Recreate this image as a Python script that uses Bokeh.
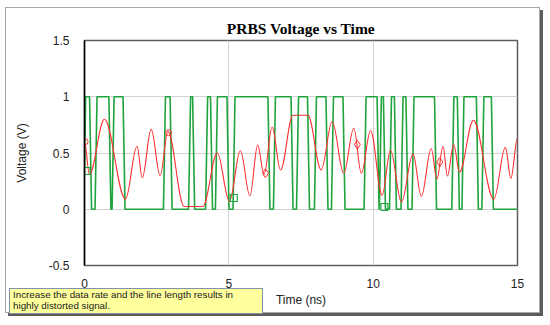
import numpy as np
from bokeh.plotting import figure
from bokeh.models import Range1d, FixedTicker, Div
from bokeh.layouts import column
from bokeh.embed import file_html
from bokeh.resources import INLINE

# ---------------- data ----------------
title_text = "PRBS Voltage vs Time"
x_label = "Time (ns)"
y_label = "Voltage (V)"
note_lines = ["Increase the data rate and the line length results in",
              "highly distorted signal."]
x_ticks = [0, 5, 10, 15]
y_ticks = [-0.5, 0, 0.5, 1, 1.5]
y_tick_labels = ["-0.5", "0", "0.5", "1", "1.5"]

# green PRBS source: start value, high/low levels, edge times (ns), first edge falls
prbs_start_value = 0.33
prbs_high = 1.0
prbs_low = 0.0
prbs_edges = [0.21, 0.40, 0.88, 0.99, 1.37, 2.77, 3.00, 3.64, 3.78, 4.23,
              4.40, 4.57, 4.97, 5.18, 6.39, 6.58, 7.19, 7.38, 7.76, 8.00,
              8.40, 8.59, 8.99, 9.72, 10.17, 10.25, 10.39, 10.60, 10.77, 11.00,
              11.17, 11.38, 12.16, 12.76, 12.95, 13.11, 13.61, 13.80, 14.13]

# red received signal: turning points (ns, V)
rx_t = [0.00, 0.17, 0.69, 1.42, 1.82, 2.00, 2.31, 2.62, 2.89, 3.45,
        4.10, 4.60, 5.02, 5.40, 5.73, 6.00, 6.22, 6.50, 6.79, 7.22,
        7.74, 8.20, 8.58, 8.98, 9.33, 9.59, 9.91, 10.31, 10.60, 10.98,
        11.38, 11.67, 12.01, 12.21, 12.42, 12.57, 12.79, 12.99, 13.47, 14.18,
        14.58, 14.77, 15.00]
rx_v = [0.60, 0.31, 0.80, 0.09, 0.56, 0.28, 0.71, 0.30, 0.69, 0.025,
        0.025, 0.50, 0.07, 0.52, 0.12, 0.57, 0.31, 0.73, 0.35, 0.835,
        0.835, 0.35, 0.78, 0.32, 0.72, 0.32, 0.70, 0.125, 0.525, 0.065,
        0.49, 0.115, 0.54, 0.27, 0.56, 0.295, 0.575, 0.33, 0.79, 0.09,
        0.55, 0.275, 0.63]

# data-point markers
rx_circle_t = [0.02, 2.91]
rx_circle_v = [0.60, 0.68]
rx_diamond_t = [6.27, 9.45, 12.31]
rx_diamond_v = [0.32, 0.575, 0.42]
prbs_square_t = [0.07, 5.17, 10.39]
prbs_square_v = [0.34, 0.10, 0.02]

# ---------------- styles ----------------
GREEN = "#1FA33D"
RED = "#FF3030"
edge_time = 0.07
k_ctrl = 0.36

p = figure(width=535, height=306, output_backend="svg", toolbar_location=None,
           x_range=Range1d(0, 15), y_range=Range1d(-0.5, 1.5),
           min_border_left=78, min_border_right=24, min_border_top=32,
           min_border_bottom=49, title=title_text)
p.styles = {"border": "1px solid #a8a8a8", "box-shadow": "3px 3px 0px #5c5c5c",
            "margin-left": "5px", "margin-top": "7px"}
p.background_fill_color = "white"
p.border_fill_color = "white"
p.outline_line_color = "#5e5e5e"
p.outline_line_width = 1.5

p.title.align = "center"
p.title.text_font = "Liberation Serif"
p.title.text_font_size = "15.5px"
p.title.text_font_style = "bold"
p.title.text_color = "black"
p.title.standoff = 7

for ax in (p.xaxis[0], p.yaxis[0]):
    ax.major_tick_line_color = None
    ax.minor_tick_line_color = None
    ax.major_label_text_font = "Liberation Sans"
    ax.major_label_text_font_size = "12px"
    ax.major_label_text_color = "#222222"
    ax.axis_label_text_font = "Liberation Sans"
    ax.axis_label_text_font_size = "12px"
    ax.axis_label_text_font_style = "normal"
    ax.axis_label_text_color = "#222222"

p.xaxis.ticker = FixedTicker(ticks=x_ticks)
p.yaxis.ticker = FixedTicker(ticks=y_ticks)
p.yaxis.major_label_overrides = {v: s for v, s in zip(y_ticks, y_tick_labels)}
p.xaxis.axis_label = x_label
p.yaxis.axis_label = y_label
p.xaxis.axis_line_color = None
p.yaxis.axis_line_color = "black"
p.yaxis.axis_line_width = 1.5
p.xaxis.major_label_standoff = 7
p.yaxis.major_label_standoff = 9
p.xaxis.axis_label_standoff = 2
p.yaxis.axis_label_standoff = 17

p.xgrid.ticker = FixedTicker(ticks=x_ticks)
p.ygrid.ticker = FixedTicker(ticks=y_ticks)
p.grid.grid_line_color = "#d2d2d2"
p.grid.grid_line_width = 1

# green trapezoidal PRBS path
gx = [0.0, 0.04]
gy = [prbs_start_value, prbs_high]
level = prbs_high
for e in prbs_edges:
    new = prbs_low if level == prbs_high else prbs_high
    gx += [e - edge_time / 2, e + edge_time / 2]
    gy += [level, new]
    level = new
gx.append(15.0)
gy.append(level)
p.line(gx, gy, line_color=GREEN, line_width=1.6)

# red smooth curve through turning points (horizontal tangents)
t = np.array(rx_t)
v = np.array(rx_v)
x0, x1 = t[:-1], t[1:]
y0, y1 = v[:-1], v[1:]
dx = x1 - x0
p.bezier(x0=x0, y0=y0, x1=x1, y1=y1,
         cx0=x0 + k_ctrl * dx, cy0=y0, cx1=x1 - k_ctrl * dx, cy1=y1,
         line_color=RED, line_width=1.1)

p.scatter(prbs_square_t, prbs_square_v, marker="square", size=7,
          fill_color=None, line_color=GREEN, line_width=1.2)
p.scatter(rx_circle_t, rx_circle_v, marker="circle", size=6,
          fill_color=None, line_color=RED, line_width=1)
p.scatter(rx_diamond_t, rx_diamond_v, marker="diamond", size=9,
          fill_color=None, line_color=RED, line_width=1)

note = Div(text="<br>".join(note_lines), width=254, height=26,
           styles={"margin-top": "-25px", "margin-left": "9px",
                   "position": "relative", "z-index": "10",
                   "box-sizing": "border-box",
                   "background-color": "#FFFF9E",
                   "border": "1.5px solid #7f93aa",
                   "padding": "0px 3px 0px 3px",
                   "font-family": "Liberation Sans", "font-size": "9.8px",
                   "line-height": "11px", "color": "#1a1a1a",
                   "white-space": "nowrap", "overflow": "hidden"})

layout = column(p, note, spacing=0)
open("out.html", "w").write(file_html(layout, INLINE))
